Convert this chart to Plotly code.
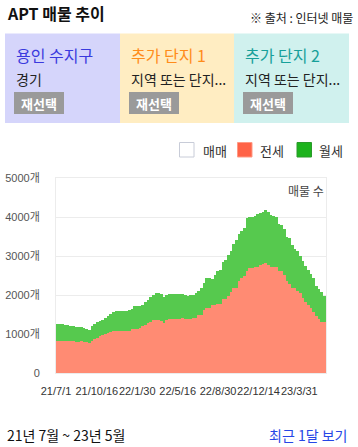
import pandas as pd
import plotly.graph_objects as go

# ---- data (weekly counts) ----
week_start = "2021-07-04 12:00"
jeonse = [810, 810, 810, 810, 810, 810, 810, 785, 785, 820, 805, 800, 775, 830, 860, 905, 950, 975, 1000, 1030,
          1060, 1070, 1085, 1085, 1085, 1085, 1070, 1070, 1130, 1130, 1130, 1160, 1200, 1240, 1280, 1320, 1360, 1370,
          1370, 1330, 1280, 1350, 1380, 1380, 1390, 1390, 1390, 1410, 1380, 1380, 1380, 1410, 1410, 1500, 1500, 1620,
          1670, 1670, 1750, 1750, 1770, 1770, 1900, 1900, 1970, 2080, 2180, 2180, 2350, 2440, 2500, 2610, 2690, 2690,
          2710, 2710, 2780, 2790, 2810, 2780, 2730, 2730, 2710, 2610, 2610, 2520, 2350, 2270, 2180, 2180, 2110, 2050,
          1920, 1820, 1750, 1670, 1560, 1450, 1390, 1320, 1320]
wolse = [450, 450, 440, 430, 420, 400, 400, 395, 390, 360, 345, 340, 335, 370, 390, 395, 390, 395, 420, 440,
         450, 490, 505, 515, 515, 515, 530, 550, 520, 580, 580, 570, 550, 570, 580, 630, 650, 680, 680, 690, 680,
         660, 650, 650, 640, 640, 640, 610, 610, 600, 630, 600, 640, 610, 680, 690, 770, 770, 670, 770, 840, 880,
         950, 1000, 1060, 1040, 1130, 1240, 1210, 1210, 1220, 1360, 1320, 1320, 1320, 1370, 1330, 1350, 1360, 1360,
         1330, 1300, 1280, 1210, 1180, 1180, 1150, 1190, 1090, 1010, 1010, 940, 960, 920, 900, 870, 880, 770, 770,
         760, 650]
tick_dates = ["2021-07-01", "2021-10-16", "2022-01-30", "2022-05-16", "2022-08-30", "2022-12-14", "2023-03-31"]
tick_text = ["21/7/1", "21/10/16", "22/1/30", "22/5/16", "22/8/30", "22/12/14", "23/3/31"]
y_ticks = [0, 1000, 2000, 3000, 4000, 5000]
y_text = ["0", "1000개", "2000개", "3000개", "4000개", "5000개"]
legend_names = ["매매", "전세", "월세"]
panel_titles = ["용인 수지구", "추가 단지 1", "추가 단지 2"]
panel_subs = ["경기", "지역 또는 단지...", "지역 또는 단지..."]

dates = pd.date_range(week_start, periods=len(jeonse), freq="7D")

FONT = "Noto Sans CJK KR"
TICKFONT = "Liberation Sans, Noto Sans CJK KR"
W, H = 358, 447
L, R, T, B = 56, 32, 178, 74
PW, PH = W - L - R, H - T - B


def px(x):
    return (x - L) / PW


def py(y):
    return (H - B - y) / PH


fig = go.Figure()
fig.add_trace(go.Bar(x=dates, y=jeonse, name="전세", marker=dict(color="#ff8b73", line=dict(width=0)),
                     showlegend=False))
fig.add_trace(go.Bar(x=dates, y=wolse, name="월세", marker=dict(color="#56c94e", line=dict(width=0)),
                     showlegend=False))

shapes = []
ann = []

# title & source
ann.append(dict(x=px(5), y=py(13), text="<b>APT 매물 추이</b>", font=dict(size=16, color="#111"),
                xanchor="left", yanchor="middle"))
ann.append(dict(x=px(355), y=py(17.5), text="※ 출처 : 인터넷 매물", font=dict(size=12, color="#222"),
                xanchor="right", yanchor="middle"))

# panels
panel_x = [(5, 120), (120, 234), (234, 349)]
panel_bg = ["#d5d5fb", "#ffedc2", "#d0f1ee"]
panel_fg = ["#3a3ade", "#ff8c1a", "#17a09a"]
for (x0, x1), bg, fg, t, s in zip(panel_x, panel_bg, panel_fg, panel_titles, panel_subs):
    shapes.append(dict(type="rect", xref="paper", yref="paper", x0=px(x0), x1=px(x1), y0=py(123), y1=py(33.5),
                       fillcolor=bg, line=dict(width=0), layer="below"))
    ann.append(dict(x=px(x0 + 9), y=py(55), text=t, font=dict(size=16, color=fg), xanchor="left", yanchor="middle"))
    ann.append(dict(x=px(x0 + 9), y=py(79), text=s, font=dict(size=14, color="#222"), xanchor="left",
                    yanchor="middle"))
    shapes.append(dict(type="rect", xref="paper", yref="paper", x0=px(x0 + 9), x1=px(x0 + 59), y0=py(114),
                       y1=py(92), fillcolor="#9a9a9a", line=dict(width=0)))
    ann.append(dict(x=px(x0 + 34), y=py(103), text="<b>재선택</b>", font=dict(size=13, color="#fff"),
                    xanchor="center", yanchor="middle"))

# legend
leg_box = [(179.5, "#ffffff", "#c8ccd8"), (237.5, "#ff6347", "#ff9a85"), (297, "#1db31d", "#2a9a2a")]
leg_txt_x = [201, 258, 316.5]
for (bx, fc, lc), tx, name in zip(leg_box, leg_txt_x, legend_names):
    shapes.append(dict(type="rect", xref="paper", yref="paper", x0=px(bx), x1=px(bx + 14.5), y0=py(157),
                       y1=py(142.5), fillcolor=fc, line=dict(color=lc, width=1)))
    ann.append(dict(x=px(tx), y=py(150), text=name, font=dict(size=13, color="#333"), xanchor="left",
                    yanchor="middle"))

# in-plot label
ann.append(dict(x=1.0, y=py(190), text="매물 수", font=dict(size=12, color="#444"), xanchor="right",
                yanchor="middle"))

# bottom row
ann.append(dict(x=px(5), y=py(435), text="21년 7월 ~ 23년 5월", font=dict(size=14, color="#111"),
                xanchor="left", yanchor="middle"))
ann.append(dict(x=px(349), y=py(435), text="최근 1달 보기", font=dict(size=14, color="#2646e6"),
                xanchor="right", yanchor="middle"))

for a in ann:
    a.update(xref="paper", yref="paper", showarrow=False)

fig.update_layout(
    width=W, height=H, margin=dict(l=L, r=R, t=T, b=B, pad=0, autoexpand=False),
    paper_bgcolor="#fff", plot_bgcolor="#fff",
    barmode="stack", bargap=0,
    font=dict(family=FONT, size=11, color="#444"),
    shapes=shapes, annotations=ann,
    xaxis=dict(type="date", range=["2021-07-01", "2023-06-09"], tickvals=tick_dates, ticktext=tick_text,
               tickangle=0, showgrid=False, showline=True, mirror=True, linecolor="#ececec", linewidth=1,
               ticks="", ticklabelstandoff=8, tickfont=dict(family=TICKFONT, size=11, color="#333"),
               automargin=False, fixedrange=True),
    yaxis=dict(range=[0, 5000], tickvals=y_ticks, ticktext=y_text, showgrid=True, gridcolor="#ececec",
               zeroline=False, showline=True, mirror=True, linecolor="#ececec", linewidth=1, ticks="",
               ticklabelstandoff=13, tickfont=dict(family=TICKFONT, size=11, color="#555"),
               automargin=False, fixedrange=True),
)

fig.write_html("out.html", config={"displayModeBar": False},
               post_script="document.body.style.margin='0';document.body.style.overflow='hidden';")
